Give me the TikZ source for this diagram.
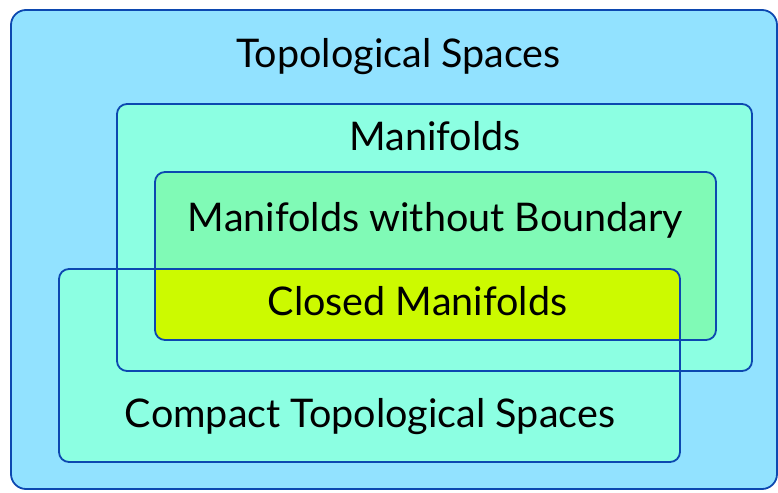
\documentclass[tikz,border=0pt]{standalone}
\usepackage{fontspec}
\setmainfont{Lato}
\definecolor{outerc}{RGB}{146,226,255}
\definecolor{aquac}{RGB}{140,255,226}
\definecolor{greenc}{RGB}{128,250,182}
\definecolor{yellowc}{RGB}{204,250,0}
\definecolor{linec}{RGB}{12,72,176}
\tikzset{
  frame/.style={draw=linec, line width=1.8pt, rounded corners=10pt},
  lbl/.style={anchor=base, inner sep=0pt, font=\fontsize{39.5}{44}\selectfont, text=black}
}
\begin{document}
\begin{tikzpicture}[x=1pt,y=-1pt]
\useasboundingbox (0,0) rectangle (778,492);
% outer
\filldraw[frame, fill=outerc, rounded corners=15pt] (11,10) rectangle (777,489);
% fills
\fill[aquac, rounded corners=10pt] (59,269) rectangle (680,462);
\fill[aquac, rounded corners=10pt] (117,104) rectangle (752,371);
\fill[greenc, rounded corners=10pt] (155,172) rectangle (716,340);
\begin{scope}
  \clip[rounded corners=10pt] (59,269) rectangle (680,462);
  \fill[yellowc, rounded corners=10pt] (155,172) rectangle (716,340);
\end{scope}
% outlines
\draw[frame] (117,104) rectangle (752,371);
\draw[frame] (155,172) rectangle (716,340);
\draw[frame] (59,269) rectangle (680,462);
% labels
\node[lbl] (top) at (398.5,68) {Topological Spaces};
\node[lbl] (man) at (435,150) {Manifolds};
\node[lbl] (mwb) at (435.5,231.5) {Manifolds without Boundary};
\node[lbl] (clo) at (417.5,315) {Closed Manifolds};
\node[lbl] (cpt) at (370,427) {Compact Topological Spaces};
\end{tikzpicture}
\end{document}
